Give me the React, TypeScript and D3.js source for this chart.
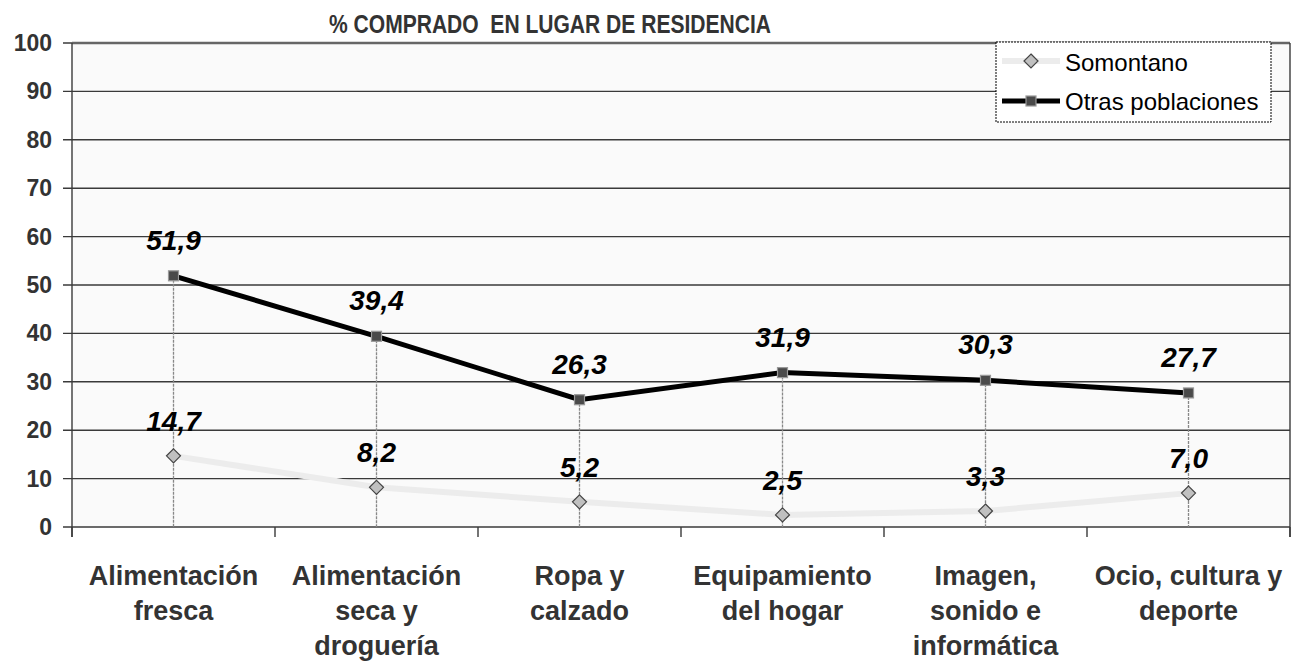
import React from "react";
import * as d3 from "d3";

const categories = [
  ["Alimentación", "fresca"],
  ["Alimentación", "seca y", "droguería"],
  ["Ropa y", "calzado"],
  ["Equipamiento", "del hogar"],
  ["Imagen,", "sonido e", "informática"],
  ["Ocio, cultura y", "deporte"],
];
const somontano = [14.7, 8.2, 5.2, 2.5, 3.3, 7.0];
const otras = [51.9, 39.4, 26.3, 31.9, 30.3, 27.7];
const yTicks = [0, 10, 20, 30, 40, 50, 60, 70, 80, 90, 100];
const title = "% COMPRADO\u00a0 EN LUGAR DE RESIDENCIA";

const W = 1292, H = 663;
const left = 72, right = 1290, top = 43, bottom = 527;
const font = "'Liberation Sans', Arial, sans-serif";

export default function App() {
  const x = d3.scaleBand<number>().domain(d3.range(categories.length)).range([left, right]).padding(0);
  const y = d3.scaleLinear().domain([0, 100]).range([bottom, top]);
  const cx = (i: number) => (x(i) as number) + x.bandwidth() / 2;
  const line = d3.line<number>().x((_, i) => cx(i)).y((d) => y(d));
  const fmt = (v: number) => v.toFixed(1).replace(".", ",");

  return (
    <svg width={W} height={H} style={{ position: "absolute", left: 0, top: 0, background: "#fff" }} fontFamily={font}>
      <rect x={left} y={top} width={right - left} height={bottom - top} fill="#fafafa" />
      {yTicks.map((t) => (
        <g key={t}>
          <line x1={left - 9} x2={right} y1={y(t)} y2={y(t)} stroke="#3a3a3a" strokeWidth={1.4} />
          <text x={52} y={y(t) + 8} textAnchor="end" fontSize={23} fontWeight="bold" fill="#333">{t}</text>
        </g>
      ))}
      <line x1={left} x2={right} y1={top} y2={top} stroke="#666" strokeWidth={2.5} />
      <line x1={left} x2={left} y1={top} y2={bottom + 10} stroke="#3a3a3a" strokeWidth={1.4} />
      <line x1={right} x2={right} y1={top} y2={bottom + 10} stroke="#3a3a3a" strokeWidth={1.4} />
      {d3.range(categories.length + 1).map((i) => {
        const xx = i < categories.length ? (x(i) as number) : right;
        return <line key={i} x1={xx} x2={xx} y1={bottom} y2={bottom + 10} stroke="#3a3a3a" strokeWidth={1.4} />;
      })}
      {otras.map((v, i) => (
        <line key={i} x1={cx(i)} x2={cx(i)} y1={y(v)} y2={bottom} stroke="#888" strokeWidth={1.3} strokeDasharray="3,1" />
      ))}
      <path d={line(somontano) || ""} fill="none" stroke="#ececec" strokeWidth={6} />
      <path d={line(otras) || ""} fill="none" stroke="#000" strokeWidth={5} />
      {somontano.map((v, i) => (
        <path key={i} d={`M${cx(i)},${y(v) - 7} l7,7 l-7,7 l-7,-7 Z`} fill="#c0c0c0" stroke="#444" strokeWidth={1.2} />
      ))}
      {otras.map((v, i) => (
        <rect key={i} x={cx(i) - 5} y={y(v) - 5} width={10} height={10} fill="#4a4a4a" stroke="#999" strokeWidth={1.2} />
      ))}
      {otras.map((v, i) => (
        <text key={i} x={cx(i)} y={y(v) - 26} textAnchor="middle" fontSize={28} fontWeight="bold" fontStyle="italic" fill="#000">{fmt(v)}</text>
      ))}
      {somontano.map((v, i) => (
        <text key={i} x={cx(i)} y={y(v) - 25} textAnchor="middle" fontSize={28} fontWeight="bold" fontStyle="italic" fill="#000">{fmt(v)}</text>
      ))}
      {categories.map((lines, i) => (
        <text key={i} x={cx(i)} textAnchor="middle" fontSize={27} fontWeight="bold" fill="#333">
          {lines.map((l, j) => (
            <tspan key={j} x={cx(i)} y={585 + j * 35}>{l}</tspan>
          ))}
        </text>
      ))}
      <text x={329} y={33} fontSize={26} fontWeight="bold" fill="#333" textLength={442} lengthAdjust="spacingAndGlyphs">{title}</text>
      <rect x={996} y={42} width={275} height={80} fill="#fff" stroke="#000" strokeWidth={1} strokeDasharray="2,1" />
      <line x1={1002} x2={1060} y1={61} y2={61} stroke="#ececec" strokeWidth={6} />
      <path d={`M1031,54 l7,7 l-7,7 l-7,-7 Z`} fill="#c0c0c0" stroke="#444" strokeWidth={1.2} />
      <text x={1065} y={71} fontSize={24} fill="#000">Somontano</text>
      <line x1={1002} x2={1060} y1={101} y2={101} stroke="#000" strokeWidth={5} />
      <rect x={1026} y={96} width={10} height={10} fill="#4a4a4a" stroke="#999" strokeWidth={1.2} />
      <text x={1065} y={110} fontSize={24} fill="#000">Otras poblaciones</text>
    </svg>
  );
}
